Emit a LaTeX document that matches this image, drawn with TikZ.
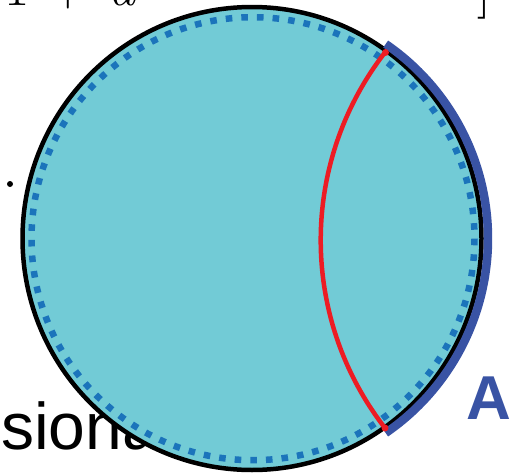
\documentclass[tikz,border=0pt]{standalone}
\usepackage{fontspec}
\newfontfamily\arialfont{Liberation Sans}
\definecolor{discfill}{HTML}{72CBD6}
\definecolor{dotblue}{HTML}{1B74BB}
\definecolor{arcblue}{HTML}{3953A4}
\definecolor{arcred}{HTML}{ED1C24}
\tikzset{
  mathglyph/.style={inner sep=0pt, anchor=base, font=\fontsize{55}{60}\selectfont},
  sanstext/.style={inner sep=0pt, anchor=base west, font=\fontsize{66}{70}\selectfont\arialfont},
  labelA/.style={inner sep=0pt, anchor=base west, text=arcblue, font=\fontsize{62}{66}\selectfont\arialfont\bfseries},
  disc/.style={fill=discfill, draw=black, line width=4.5pt},
  dotring/.style={draw=dotblue, line width=6.5pt, dash pattern=on 6.6pt off 9.04pt},
  redarc/.style={draw=arcred, line width=4.5pt},
  bluearc/.style={draw=arcblue, line width=8.5pt},
  enddot/.style={circle, fill=arcred, inner sep=0pt, minimum size=7pt}
}
\begin{document}
\begin{tikzpicture}[x=1pt,y=-1pt]
\useasboundingbox (0,0) rectangle (517,474);
% cropped text fragments
\node[mathglyph] (one) at (17,5) {1};
\node[mathglyph] (plus) at (68,5) {+};
\node[mathglyph] (a) at (122,5) {\itshape a};
\node[mathglyph] (br) at (484.5,5) {]};
\fill (10,184) circle [radius=3];
\node[sanstext] (sion) at (1,449) {siona};
% disc
\coordinate (c) at (252,238.5);
\coordinate (cd) at (253,238.7);
\draw[disc] (c) ellipse [x radius=229.5, y radius=231.5];
\draw[dotring] (cd) circle [radius=221.5];
% red arc
\coordinate (rb) at (385,428);
\coordinate (rt) at (385.5,52.5);
\draw[redarc] (rb) arc [start angle=142.2, end angle=217.8, radius=306.4];
% blue arc
\draw[bluearc] (c) ++(-55.5:236) arc [start angle=-55.5, end angle=55.5, radius=236];
\node[enddot] at (rt) {};
\node[enddot] at (rb) {};
\node[labelA] (A) at (466,419) {A};
\end{tikzpicture}
\end{document}
